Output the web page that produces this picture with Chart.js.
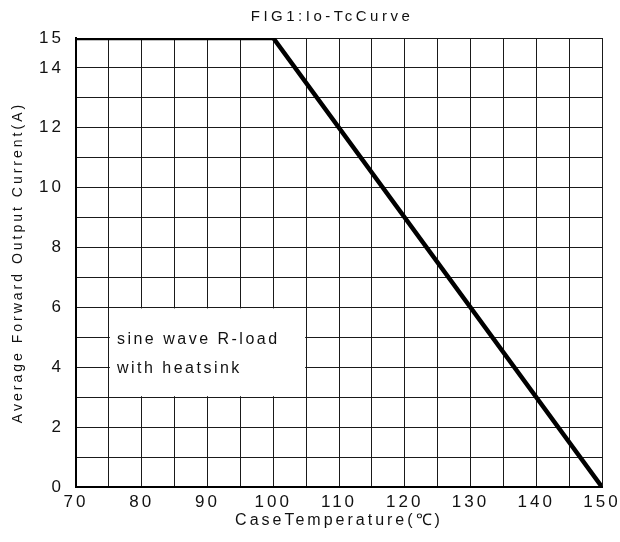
<!DOCTYPE html>
<html><head><meta charset="utf-8">
<script src="https://cdn.jsdelivr.net/npm/chart.js@4"></script>
<style>html,body{margin:0;padding:0;background:#fff}#wrap{width:620px;height:542px}</style>
</head><body><div id="wrap"><canvas id="c"></canvas></div>
<script>
const temps = [70, 100, 150];
const currents = [15, 15, 0];
const titleText = 'FIG1:Io-TcCurve';
const xTitle = 'CaseTemperature(\u2103)';
const yTitle = 'Average Forward Output Current(A)';
const noteLines = ['sine wave R-load', 'with heatsink'];
const noteBox = {x0: 75, x1: 105, y0: 6, y1: 3};
const FONT = "'Liberation Sans', Arial, sans-serif";

const spacing = {
  id: 'spacing',
  beforeUpdate(c){ c.ctx.letterSpacing = '3px'; },
  beforeLayout(c){ c.ctx.letterSpacing = '3px'; },
  beforeDraw(c){ c.ctx.letterSpacing = '3px'; }
};
const titlePlugin = {
  id: 'plotTitle',
  afterDraw(c){
    const ctx = c.ctx, a = c.chartArea;
    ctx.save();
    ctx.letterSpacing = '3.5px';
    ctx.fillStyle = '#111';
    ctx.font = '15px ' + FONT;
    ctx.textAlign = 'center';
    ctx.textBaseline = 'middle';
    ctx.fillText(titleText, (a.left + a.right) / 2 - 7, 17);
    ctx.restore();
  }
};
const notePlugin = {
  id: 'note',
  afterDatasetsDraw(c){
    const ctx = c.ctx, xs = c.scales.x, ys = c.scales.y;
    const l = xs.getPixelForValue(noteBox.x0), r = xs.getPixelForValue(noteBox.x1);
    const t = ys.getPixelForValue(noteBox.y0), b = ys.getPixelForValue(noteBox.y1);
    ctx.save();
    ctx.fillStyle = '#fff';
    ctx.fillRect(l+1, t+1, r-l-2, b-t-2);
    ctx.letterSpacing = '2.5px';
    ctx.fillStyle = '#111';
    ctx.font = '16px ' + FONT;
    ctx.textBaseline = 'middle';
    ctx.fillText(noteLines[0], l+8, t+32);
    ctx.fillText(noteLines[1], l+8, t+61);
    ctx.restore();
  }
};

new Chart(document.getElementById('c'), {
  type: 'line',
  data: { datasets: [{ data: temps.map((t,i)=>({x:t, y:currents[i]})), borderColor:'#000', borderWidth:4.5, pointRadius:0, tension:0, fill:false }] },
  options: {
    responsive: true, maintainAspectRatio: false, animation: false,
    layout: { padding: { top: 38, right: 18, left: 0, bottom: 0 } },
    plugins: {
      legend: { display: false }, tooltip: { enabled: false }, title: { display: false }
    },
    scales: {
      x: {
        type: 'linear', min: 70, max: 150,
        afterFit(s){ s.height = 55; s.paddingLeft = 0; s.paddingRight = 0; },
        ticks: { stepSize: 5, autoSkip: false, maxRotation: 0, padding: 5, color:'#111', font:{family:FONT, size:17}, callback: v => v % 10 === 0 ? String(v) : '' },
        grid: { color: '#1a1a1a', lineWidth: 1, drawTicks: false },
        border: { color: '#000', width: 2 },
        title: { display: true, text: xTitle, color:'#111', font:{family:FONT, size:16}, padding:{top:4, bottom:12} }
      },
      y: {
        min: 0, max: 15,
        afterFit(s){ s.width = 76; s.paddingTop = 0; s.paddingBottom = 0; },
        ticks: { stepSize: 1, autoSkip: false, padding: 12, color:'#111', font:{family:FONT, size:17}, callback: v => (v % 2 === 0 || v === 15) ? String(v) : '' },
        grid: { color: '#1a1a1a', lineWidth: 1, drawTicks: false },
        border: { color: '#000', width: 2 },
        title: { display: true, text: yTitle, color:'#111', font:{family:FONT, size:14}, padding:{top:10, bottom:0} }
      }
    }
  },
  plugins: [spacing, titlePlugin, notePlugin]
});
</script></body></html>
